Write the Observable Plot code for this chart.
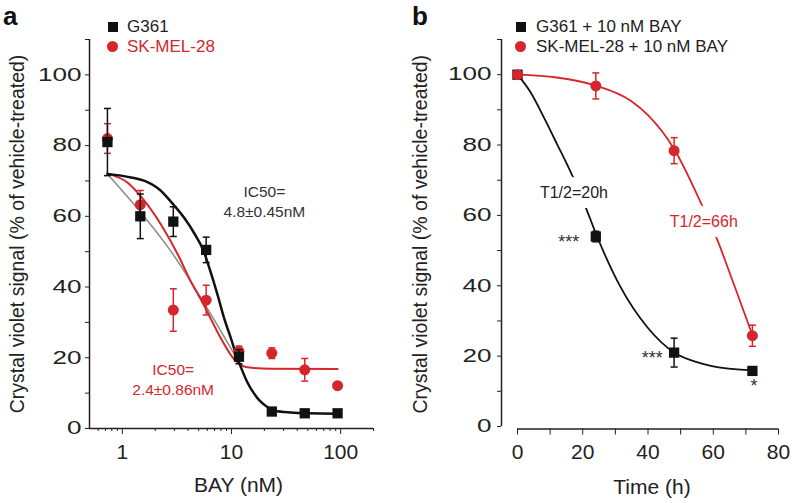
<!DOCTYPE html>
<html>
<head>
<meta charset="utf-8">
<script src="https://cdn.jsdelivr.net/npm/d3@7"></script>
<script src="https://cdn.jsdelivr.net/npm/@observablehq/plot@0.6"></script>
<style>
  body { margin: 0; background: #fff; font-family: "Liberation Sans", Arial, sans-serif; }
  #wrap { position: relative; width: 794px; height: 503px; overflow: hidden; background: #fff; }
  #wrap svg { position: absolute; top: 0; }
  .lbl { position: absolute; font-weight: bold; font-size: 26px; line-height: normal; color: #111; }
  .leg { position: absolute; font-size: 17px; line-height: 20px; white-space: nowrap; }
  .sq { position: absolute; width: 10px; height: 10px; background: #111; }
  .ci { position: absolute; width: 11px; height: 11px; border-radius: 50%; background: #d6262c; }
</style>
</head>
<body>
<div id="wrap">
  <div class="lbl" style="left:3px;top:1px">a</div>
  <div class="lbl" style="left:412px;top:1px">b</div>
  <div class="sq" style="left:108px;top:22px"></div>
  <div class="leg" style="left:127px;top:17px;color:#222">G361</div>
  <div class="ci" style="left:107px;top:41px"></div>
  <div class="leg" style="left:127px;top:37px;color:#d6262c">SK-MEL-28</div>
  <div class="sq" style="left:516px;top:22px"></div>
  <div class="leg" style="left:536px;top:17px;color:#222">G361 + 10 nM BAY</div>
  <div class="ci" style="left:515px;top:41px"></div>
  <div class="leg" style="left:536px;top:37px;color:#222">SK-MEL-28 + 10 nM BAY</div>
</div>
<script>
// ---------- Data: panel a (dose response) ----------
const concA = [0.73, 1.46, 2.93, 5.86, 11.7, 23.4, 46.9, 93.75];
const g361A = [81, 60, 58.5, 50.5, 20.3, 4.8, 4.3, 4.3];
const g361AErr = [9.5, 6.3, 4.2, 3.6, 2, 0.8, 0.6, 0.6];
const skA = [82, 63.3, 33.5, 36.3, 21.8, 21.3, 16.6, 12.1];
const skAErr = [4.2, 4, 6, 4.2, 1.5, 1.5, 3.2, 0.5];

// fitted curves
const fitG361AX = [0.73, 1.2, 1.6, 2.2, 2.9, 3.7, 4.6, 5.5, 6.4, 7.5, 8.5, 10, 11, 12.5, 14, 16, 18.6, 21.5, 25, 35, 50, 93.75];
const fitG361AY = [72, 71, 70, 67.5, 63.5, 59.5, 55, 50.5, 44.5, 37.5, 31.5, 25, 21, 16.5, 13, 10, 7.5, 6, 5, 4.5, 4.3, 4.2];
const fitGrayAX = [0.73, 2.73, 10.9];
const fitGrayAY = [72, 50.5, 20.4];
const fitSKAX = [0.73, 1.12, 1.49, 2.28, 3.25, 4.17, 5.5, 7.9, 10.5, 14, 23, 93.75];
const fitSKAY = [72, 69.5, 65.5, 57.5, 49, 42, 35.3, 25.8, 19.7, 17.3, 16.9, 16.8];

const xDomainA = [0.5, 200];
const xMajorA = [1, 10, 100];
const xMinorA = [0.6, 0.7, 0.8, 0.9, 2, 3, 4, 5, 6, 7, 8, 9, 20, 30, 40, 50, 60, 70, 80, 90, 200];
const yDomain = [0, 110];
const yTicks = [0, 10, 20, 30, 40, 50, 60, 70, 80, 90, 100, 110];
const yTickLabels = [0, 20, 40, 60, 80, 100];
const yTitle = "Crystal violet signal (% of vehicle-treated)";
const xTitleA = "BAY (nM)";
const annotA = [
  {x: 20, y: 64.4, text: "IC50=\n4.8±0.45nM", color: "#333"},
  {x: 2.92, y: 14.1, text: "IC50=\n2.4±0.86nM", color: "#d6262c"}
];

// ---------- Data: panel b (time course) ----------
const timeB = [0, 24, 48, 72];
const g361B = [100, 54, 21, 15.8];
const g361BErr = [0.5, 1.5, 4.1, 1];
const skB = [100, 96.8, 78.4, 25.8];
const skBErr = [0.5, 3.7, 3.7, 3];
const fitG361BX = [0, 4, 8, 12, 16.8, 20.9, 24.4, 31.6, 39.8, 48, 56, 64, 72];
const fitG361BY = [100, 95, 88, 80.5, 71.3, 62.3, 54, 39.6, 28.2, 21, 18, 16.5, 16];
const fitSKBX = [0, 12, 24, 34.7, 40, 48, 56.6, 60.7, 65.9, 72];
const fitSKBY = [100, 99.2, 96.9, 92.6, 88.5, 78.9, 62.8, 54.3, 41.5, 26];
const xDomainB = [0, 80];
const xTicksB = [0, 10, 20, 30, 40, 50, 60, 70, 80];
const xTickLabelsB = [0, 20, 40, 60, 80];
const xTitleB = "Time (h)";
const halfLifeB = [
  {x: 17.3, y: 66.4, text: "T1/2=20h", color: "#222"},
  {x: 57.1, y: 58.3, text: "T1/2=66h", color: "#d6262c"}
];
const starsB = [
  {x: 15.7, y: 53.6, text: "***"},
  {x: 41.3, y: 20.5, text: "***"},
  {x: 72.5, y: 12.5, text: "*"}
];

// ---------- helpers ----------
const RED = "#d6262c", BLK = "#111", AX = "#222";
const FONT = "'Liberation Sans', Arial, sans-serif";
const zip = (xs, ys, es) => xs.map((x, i) => ({x, y: ys[i], e: es ? es[i] : 0}));
const capSymbol = {draw(ctx, size) { const w = Math.sqrt(size / Math.PI); ctx.moveTo(-w, 0); ctx.lineTo(w, 0); }};
function errMarks(rows, color) {
  return [
    Plot.ruleX(rows, {x: "x", y1: d => d.y - d.e, y2: d => d.y + d.e, stroke: color, strokeWidth: 1.5}),
    Plot.dot(rows, {x: "x", y: d => d.y + d.e, symbol: capSymbol, r: 3.5, stroke: color, strokeWidth: 1.5, fill: "none"}),
    Plot.dot(rows, {x: "x", y: d => d.y - d.e, symbol: capSymbol, r: 3.5, stroke: color, strokeWidth: 1.5, fill: "none"})
  ];
}
function stretchY(svg) {
  for (const t of svg.querySelectorAll('g[aria-label="y-axis tick label"] text')) {
    const tr = t.getAttribute("transform");
    if (tr) t.setAttribute("transform", tr + " scale(1.45,1)");
    else {
      const x = +t.getAttribute("x") || 0;
      t.setAttribute("transform", `translate(${x},0) scale(1.45,1) translate(${-x},0)`);
    }
  }
}

// ---------- panel a ----------
const gA = zip(concA, g361A, g361AErr), sA = zip(concA, skA, skAErr);
const plotA = Plot.plot({
  width: 400, height: 503,
  marginLeft: 89, marginRight: 27, marginTop: 39, marginBottom: 75,
  x: {type: "log", domain: xDomainA},
  y: {domain: yDomain},
  style: {fontFamily: FONT, background: "transparent", color: AX, overflow: "visible"},
  marks: [
    Plot.ruleX([xDomainA[0]], {stroke: AX, strokeWidth: 1.5}),
    Plot.ruleY([yDomain[0]], {stroke: AX, strokeWidth: 1.5}),
    Plot.axisY({ticks: yTicks, tickSize: 4, tickPadding: 4, fontSize: 18, label: null,
                tickFormat: d => yTickLabels.includes(d) ? String(d) : ""}),
    Plot.axisX({ticks: xMinorA, tickSize: 3, label: null, tickFormat: () => ""}),
    Plot.axisX({ticks: xMajorA, tickSize: 6, tickPadding: 10, fontSize: 21, label: null, tickFormat: d => String(d)}),
    Plot.text([xTitleA], {frameAnchor: "bottom", dy: 57, dx: 7, fontSize: 21, lineAnchor: "middle", textAnchor: "middle", fill: AX}),
    Plot.text([yTitle], {frameAnchor: "left", rotate: -90, dx: -72, fontSize: 19.5, lineAnchor: "middle", textAnchor: "middle", fill: AX}),
    Plot.line(zip(fitGrayAX, fitGrayAY), {x: "x", y: "y", stroke: "#8a8a8a", strokeWidth: 1.5, curve: "monotone-x"}),
    Plot.line(zip(fitSKAX, fitSKAY), {x: "x", y: "y", stroke: RED, strokeWidth: 2, curve: "monotone-x"}),
    Plot.line(zip(fitG361AX, fitG361AY), {x: "x", y: "y", stroke: BLK, strokeWidth: 2.5, curve: "monotone-x"}),
    ...errMarks(sA, RED),
    Plot.dot(sA, {x: "x", y: "y", r: 5.5, fill: RED}),
    ...errMarks(gA, BLK),
    Plot.dot(gA, {x: "x", y: "y", symbol: "square", r: 5.8, fill: BLK}),
    Plot.text(annotA, {x: "x", y: "y", text: "text", fill: "color", fontSize: 15.5, lineHeight: 1.3, lineAnchor: "middle"})
  ]
});
plotA.style.left = "0px";
stretchY(plotA);

// ---------- panel b ----------
const gB = zip(timeB, g361B, g361BErr), sB = zip(timeB, skB, skBErr);
const plotB = Plot.plot({
  width: 394, height: 503,
  marginLeft: 101, marginRight: 16, marginTop: 39, marginBottom: 74.5,
  x: {domain: xDomainB, insetLeft: 16},
  y: {domain: yDomain, insetBottom: 2.5},
  style: {fontFamily: FONT, background: "transparent", color: AX, overflow: "visible"},
  marks: [
    Plot.ruleX([xDomainB[0]], {y1: yDomain[0], y2: yDomain[1], dx: -16, stroke: AX, strokeWidth: 1.5}),
    Plot.ruleY([yDomain[0]], {x1: xDomainB[0], x2: xDomainB[1], dy: 2.5, stroke: AX, strokeWidth: 1.5}),
    Plot.axisY({ticks: yTicks, tickSize: 4, tickPadding: 6, fontSize: 18, label: null,
                tickFormat: d => yTickLabels.includes(d) ? String(d) : ""}),
    Plot.axisX({ticks: xTicksB, tickSize: 6, tickPadding: 9, fontSize: 21, label: null,
                tickFormat: d => xTickLabelsB.includes(d) ? String(d) : ""}),
    Plot.text([xTitleB], {frameAnchor: "bottom", dy: 58, dx: 12, fontSize: 21, lineAnchor: "middle", textAnchor: "middle", fill: AX}),
    Plot.text([yTitle], {frameAnchor: "left", rotate: -90, dx: -81, fontSize: 19.5, lineAnchor: "middle", textAnchor: "middle", fill: AX}),
    Plot.line(zip(fitG361BX, fitG361BY), {x: "x", y: "y", stroke: BLK, strokeWidth: 1.8, curve: "monotone-x"}),
    Plot.line(zip(fitSKBX, fitSKBY), {x: "x", y: "y", stroke: RED, strokeWidth: 1.8, curve: "monotone-x"}),
    Plot.text(halfLifeB, {x: "x", y: "y", text: "text", fill: "color", fontSize: 16, lineAnchor: "middle",
                          stroke: "white", strokeWidth: 20, strokeLinejoin: "round"}),
    ...errMarks(gB, BLK),
    Plot.dot(gB, {x: "x", y: "y", symbol: "square", r: 5.8, fill: BLK}),
    ...errMarks(sB, RED),
    Plot.dot(sB, {x: "x", y: "y", r: 5.5, fill: RED}),
    Plot.text(starsB, {x: "x", y: "y", text: "text", fill: "#333", fontSize: 18, lineAnchor: "middle", dy: 4})
  ]
});
plotB.style.left = "400px";
stretchY(plotB);

const wrap = document.getElementById("wrap");
wrap.prepend(plotB);
wrap.prepend(plotA);
</script>
</body>
</html>
